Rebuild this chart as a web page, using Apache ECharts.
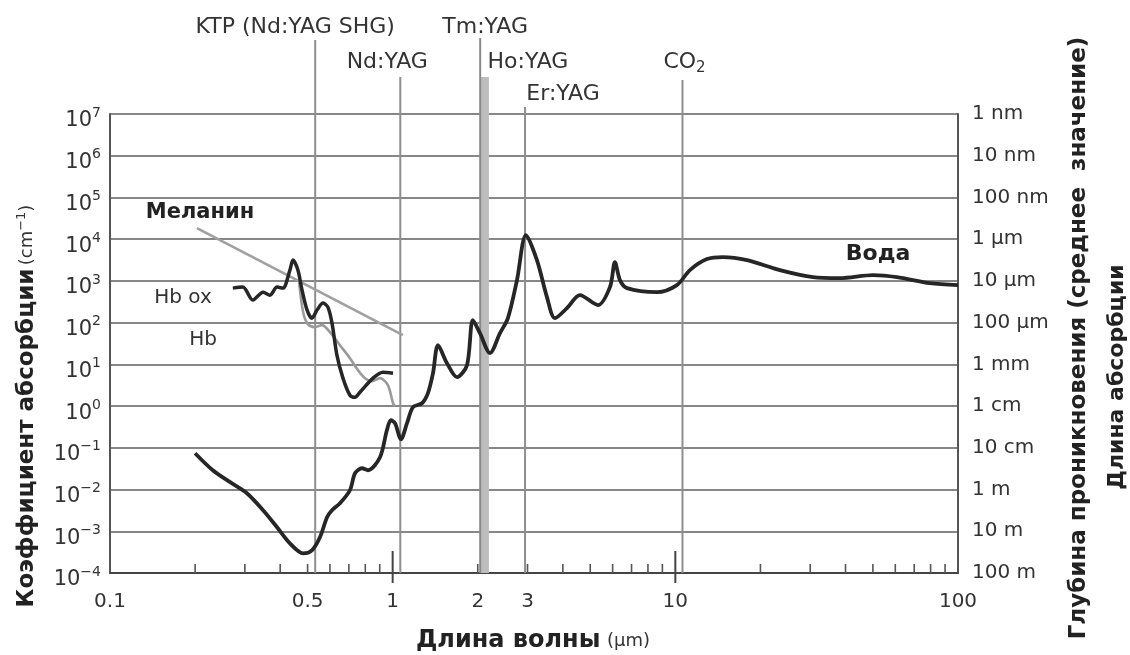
<!DOCTYPE html>
<html>
<head>
<meta charset="utf-8">
<script src="https://cdn.jsdelivr.net/npm/echarts@6/dist/echarts.min.js"></script>
<style>
  html, body { margin: 0; padding: 0; background: #fff; }
  #chart { width: 1130px; height: 655px; }
</style>
</head>
<body>
<div id="chart"></div>
<script>
// Absorption spectra: [wavelength (µm), absorption coefficient (cm^-1)]
const water = [
  [0.200, 0.0743], [0.231, 0.0290], [0.266, 0.0150], [0.305, 0.00815], [0.348, 0.00319],
  [0.390, 0.00125], [0.433, 0.000515], [0.482, 0.000296], [0.518, 0.00035], [0.553, 0.000718],
  [0.586, 0.00217], [0.610, 0.00319], [0.651, 0.00469], [0.706, 0.00962], [0.736, 0.0246],
  [0.779, 0.0324], [0.818, 0.0290], [0.902, 0.0596], [0.954, 0.264], [0.986, 0.459],
  [1.019, 0.389], [1.070, 0.161], [1.124, 0.389], [1.180, 0.942], [1.270, 1.17],
  [1.333, 2.04], [1.389, 6.15], [1.447, 28.8], [1.556, 10.7], [1.689, 4.93],
  [1.832, 9.57], [1.923, 115], [2.036, 56.0], [2.209, 18.6], [2.397, 56.0],
  [2.557, 128], [2.753, 1045], [2.962, 12530], [3.239, 3155], [3.514, 409],
  [3.751, 128], [4.136, 223], [4.597, 456], [5.323, 263], [5.871, 710],
  [6.114, 2825], [6.368, 1045], [6.744, 672], [8.61, 538], [10.13, 793],
  [11.26, 1815], [12.94, 3334], [14.74, 3724], [17.92, 3155], [23.44, 1815],
  [30.67, 1233], [38.2, 1167], [50.0, 1377], [60.8, 1233], [79.6, 885], [100, 793]
];
const hbOxy = [
  [0.272, 672], [0.295, 710], [0.320, 347], [0.348, 538], [0.368, 456], [0.390, 710],
  [0.409, 672], [0.433, 1815], [0.444, 3155], [0.462, 1815], [0.478, 601], [0.498, 200],
  [0.518, 128], [0.540, 200], [0.567, 294], [0.590, 235], [0.610, 97.3], [0.635, 16.6],
  [0.667, 4.67], [0.706, 1.82], [0.736, 1.63], [0.766, 2.15], [0.852, 4.67], [0.924, 6.50],
  [1.003, 6.15]
];
const hbDeoxy = [
  [0.466, 1040], [0.482, 179], [0.501, 92], [0.531, 78.0], [0.562, 87.1], [0.600, 59.2],
  [0.651, 28.8], [0.706, 14.1], [0.754, 7.26], [0.798, 4.67], [0.845, 3.95], [0.902, 4.67],
  [0.962, 3.17], [1.003, 1.17], [1.019, 1.0]
];
const melanin = [[0.203, 18450], [1.087, 50.1]];

// Laser emission lines
const laserNames = ['KTP (Nd:YAG SHG)', 'Nd:YAG', 'Tm:YAG', 'Ho:YAG', 'Er:YAG', '{t|CO}{sub|2}'];
const laserWavelengths = [0.532, 1.064, 2.04, 2.12, 2.94, 10.6];

// Axis ticks and labels
const xTickLabels = [0.1, 0.5, 1, 2, 3, 10, 100];
const xMajorTicks = [1, 10];
const xMinorTicks = [0.2, 0.3, 0.4, 0.5, 0.6, 0.7, 0.8, 0.9, 2, 3, 4, 5, 6, 7, 8, 9,
                     20, 30, 40, 50, 60, 70, 80, 90];
const depthLabels = ['1 nm', '10 nm', '100 nm', '1 µm', '10 µm', '100 µm',
                     '1 mm', '1 cm', '10 cm', '1 m', '10 m', '100 m'];
const depthExponents = [7, 6, 5, 4, 3, 2, 1, 0, -1, -2, -3, -4];

// Drawing styles for the laser lines (pixel tops, label offsets)
const laserStyle = [
  { top: 40,  color: '#8e8e8e', width: 2,   dx: -20, labelY: 27, z: 2 },
  { top: 77,  color: '#8e8e8e', width: 2,   dx: -13, labelY: 62, z: 2 },
  { top: 38,  color: '#8a8a8a', width: 2,   dx: 5,   labelY: 27, z: 3 },
  { top: 77,  color: '#bdbdbd', width: 8,   dx: 43,  labelY: 62, z: 1 },
  { top: 107, color: '#8e8e8e', width: 2,   dx: 38,  labelY: 94, z: 2 },
  { top: 80,  color: '#8e8e8e', width: 2,   dx: 2,   labelY: 62, z: 2 }
];

const FONT = 'DejaVu Sans';
const Y_MIN = 1e-4, Y_MAX = 1e7;

const chart = echarts.init(document.getElementById('chart'), null, { renderer: 'canvas' });

function supExp(e) {
  return e < 0 ? '\u2212' + Math.abs(e) : String(e);
}

const option = {
  animation: false,
  backgroundColor: '#fff',
  textStyle: { fontFamily: FONT },
  grid: { left: 110, right: 172, top: 114, bottom: 82, containLabel: false, outerBoundsMode: 'none' },
  xAxis: {
    type: 'log', logBase: 10, min: 0.1, max: 100,
    axisLine: { show: true, onZero: false, lineStyle: { color: '#444', width: 2 } },
    axisTick: { show: false }, axisLabel: { show: false },
    splitLine: { show: false }, minorTick: { show: false }
  },
  yAxis: [
    {
      type: 'log', logBase: 10, min: Y_MIN, max: Y_MAX, interval: 1, position: 'left',
      axisLine: { show: true, onZero: false, lineStyle: { color: '#555', width: 2 } },
      axisTick: { show: false },
      splitLine: { show: true, lineStyle: { color: '#878787', width: 1.8 } },
      axisLabel: {
        margin: 9, color: '#333',
        formatter: v => '{b|10}{s|' + supExp(Math.round(Math.log10(v))) + '}',
        rich: {
          b: { fontFamily: FONT, fontSize: 21, color: '#333', padding: [14, 0, 0, 0] },
          s: { fontFamily: FONT, fontSize: 14, color: '#333', padding: [0, 0, 2, 0] }
        }
      }
    },
    {
      type: 'log', logBase: 10, min: Y_MIN, max: Y_MAX, interval: 1, position: 'right',
      axisLine: { show: true, onZero: false, lineStyle: { color: '#555', width: 2 } },
      axisTick: { show: false }, splitLine: { show: false },
      axisLabel: {
        margin: 14, color: '#333', fontFamily: FONT, fontSize: 20,
        formatter: v => depthLabels[depthExponents.indexOf(Math.round(Math.log10(v)))]
      }
    }
  ],
  series: [
    {
      // laser emission wavelengths with their labels above the plot
      type: 'custom', name: 'lasers', clip: false, z: 1, silent: true,
      data: laserWavelengths.map(w => [w, Y_MIN]),
      encode: { x: 0, y: 1 },
      renderItem: (params, api) => {
        const i = params.dataIndex;
        const st = laserStyle[i];
        const p = api.coord([api.value(0), Y_MIN]);
        return {
          type: 'group',
          children: [
            { type: 'line', z2: st.z, shape: { x1: p[0], y1: st.top, x2: p[0], y2: p[1] },
              style: { stroke: st.color, lineWidth: st.width } },
            { type: 'text',
              style: {
                text: laserNames[i], x: p[0] + st.dx, y: st.labelY,
                align: 'center', verticalAlign: 'middle',
                fill: '#333', fontFamily: FONT, fontSize: 22,
                rich: {
                  t: { fontFamily: FONT, fontSize: 22, fill: '#333' },
                  sub: { fontFamily: FONT, fontSize: 15, fill: '#333', padding: [13, 0, 0, 0] }
                }
              } }
          ]
        };
      }
    },
    {
      // minor ticks on the wavelength axis
      type: 'custom', name: 'xMinor', clip: false, z: 4, silent: true,
      data: xMinorTicks.map(v => [v, Y_MIN]),
      encode: { x: 0, y: 1 },
      renderItem: (params, api) => {
        const p = api.coord([api.value(0), Y_MIN]);
        return { type: 'line', shape: { x1: p[0], y1: p[1], x2: p[0], y2: p[1] - 9 },
                 style: { stroke: '#555', lineWidth: 1.6 } };
      }
    },
    {
      // major ticks at 1 and 10 µm
      type: 'custom', name: 'xMajor', clip: false, z: 4, silent: true,
      data: xMajorTicks.map(v => [v, Y_MIN]),
      encode: { x: 0, y: 1 },
      renderItem: (params, api) => {
        const p = api.coord([api.value(0), Y_MIN]);
        return { type: 'line', shape: { x1: p[0], y1: p[1] - 22, x2: p[0], y2: p[1] + 10 },
                 style: { stroke: '#444', lineWidth: 2 } };
      }
    },
    {
      // wavelength tick labels
      type: 'custom', name: 'xLabels', clip: false, z: 4, silent: true,
      data: xTickLabels.map(v => [v, Y_MIN]),
      encode: { x: 0, y: 1 },
      renderItem: (params, api) => {
        const v = api.value(0);
        const p = api.coord([v, Y_MIN]);
        return { type: 'text',
                 style: { text: String(v), x: p[0], y: p[1] + 29, align: 'center', verticalAlign: 'middle',
                          fill: '#333', fontFamily: FONT, fontSize: 20 } };
      }
    },
    {
      name: 'Меланин', type: 'line', data: melanin, showSymbol: false, z: 5,
      lineStyle: { color: '#a0a0a0', width: 2.6 }
    },
    {
      name: 'Hb', type: 'line', data: hbDeoxy, showSymbol: false, smooth: 0.3, z: 5,
      lineStyle: { color: '#9a9a9a', width: 2.6 }
    },
    {
      name: 'Hb ox', type: 'line', data: hbOxy, showSymbol: false, smooth: 0.3, z: 6,
      lineStyle: { color: '#262626', width: 3.5 }
    },
    {
      name: 'Вода', type: 'line', data: water, showSymbol: false, smooth: 0.3, z: 6,
      lineStyle: { color: '#262626', width: 3.8 }
    }
  ],
  graphic: [
    { type: 'text', x: 200, y: 213, style: { text: 'Меланин', align: 'center', verticalAlign: 'middle',
      fill: '#222', fontFamily: FONT, fontWeight: 'bold', fontSize: 21 } },
    { type: 'text', x: 183, y: 298, style: { text: 'Hb ox', align: 'center', verticalAlign: 'middle',
      fill: '#333', fontFamily: FONT, fontSize: 20 } },
    { type: 'text', x: 203, y: 340, style: { text: 'Hb', align: 'center', verticalAlign: 'middle',
      fill: '#333', fontFamily: FONT, fontSize: 20 } },
    { type: 'text', x: 878, y: 254, style: { text: 'Вода', align: 'center', verticalAlign: 'middle',
      fill: '#222', fontFamily: FONT, fontWeight: 'bold', fontSize: 22 } },
    { type: 'text', x: 27, y: 406, rotation: Math.PI / 2,
      style: { text: '{b|Коэффициент абсорбции} {u|(cm}{s|\u22121}{u|)}', align: 'center', verticalAlign: 'middle',
        rich: {
          b: { fontFamily: FONT, fontWeight: 'bold', fontSize: 23, fill: '#222' },
          u: { fontFamily: FONT, fontSize: 18, fill: '#333' },
          s: { fontFamily: FONT, fontSize: 13, fill: '#333', padding: [0, 0, 10, 0] }
        } } },
    { type: 'text', x: 1079, y: 338, rotation: Math.PI / 2,
      style: { text: 'Глубина проникновения (среднее  значение)', align: 'center', verticalAlign: 'middle',
        fill: '#222', fontFamily: FONT, fontWeight: 'bold', fontSize: 23 } },
    { type: 'text', x: 1117, y: 377, rotation: Math.PI / 2,
      style: { text: 'Длина абсорбции', align: 'center', verticalAlign: 'middle',
        fill: '#222', fontFamily: FONT, fontWeight: 'bold', fontSize: 22 } },
    { type: 'text', x: 533, y: 641,
      style: { text: '{b|Длина волны}  {u|(µm)}', align: 'center', verticalAlign: 'middle',
        rich: {
          b: { fontFamily: FONT, fontWeight: 'bold', fontSize: 24, fill: '#222' },
          u: { fontFamily: FONT, fontSize: 18, fill: '#333' }
        } } }
  ]
};

chart.setOption(option);
</script>
</body>
</html>
